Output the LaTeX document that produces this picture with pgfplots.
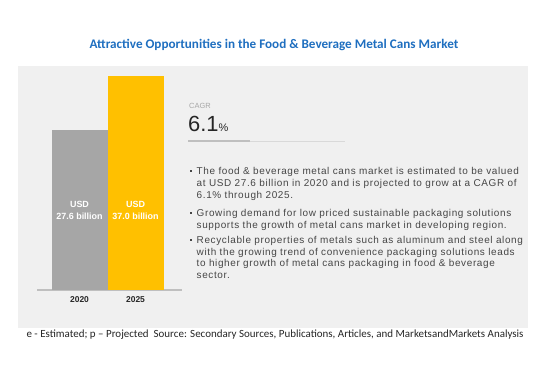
\documentclass[border=0pt]{standalone}
\usepackage{pgfplots}
\pgfplotsset{compat=1.18}
\usepackage{fontspec}
\setmainfont{Liberation Sans}
\newfontfamily\carlito{Carlito}
\newfontfamily\bulfont[LetterSpace=6.3]{Liberation Sans}
\definecolor{panel}{HTML}{F0F0F0}
\definecolor{barg}{HTML}{A6A6A6}
\definecolor{bary}{HTML}{FFC000}
\definecolor{titleblue}{HTML}{1F6FC0}
\definecolor{txt}{HTML}{464646}
\newcommand\bul{\bulfont\fontsize{10}{11}\selectfont}
\begin{document}
\begin{tikzpicture}[x=1bp,y=1bp]
\fill[white] (0,0) rectangle (550,380);
\fill[panel] (18,52) rectangle (528,314);
\node[font=\carlito\bfseries\fontsize{13.2}{15}\selectfont, text=titleblue, anchor=base, inner sep=0] at (274,332) {Attractive Opportunities in the Food \& Beverage Metal Cans Market};
\begin{axis}[at={(37bp,90bp)}, anchor=south west, scale only axis,
  width=145bp, height=231.4bp, xmin=-0.759, xmax=1.83, ymin=0, ymax=40,
  axis x line*=bottom, axis y line=none,
  x axis line style={draw=black!25, line width=1.2bp},
  xtick={0,1}, xticklabels={2020,2025}, major tick length=0,
  xticklabel style={font=\bfseries\fontsize{8.5}{10}\selectfont, text=black!85, yshift=-3bp},
  ytick=\empty, ybar, bar width=56bp, clip=false]
\addplot[fill=barg, draw=none, bar shift=0pt] coordinates {(0,27.6)};
\addplot[fill=bary, draw=none, bar shift=0pt] coordinates {(1,37.0)};
\node[text=white, align=center, font=\bfseries\fontsize{9}{12}\selectfont] at (axis cs:0,13.8) {USD\\27.6 billion};
\node[text=white, align=center, font=\bfseries\fontsize{9}{12}\selectfont] at (axis cs:1,13.8) {USD\\37.0 billion};
\end{axis}
% CAGR block
\node[anchor=base west, inner sep=0, font=\fontsize{7.5}{8}\selectfont, text=barg] at (189,272) {CAGR};
\node[anchor=base west, inner sep=0, font=\fontsize{22}{24}\selectfont, text=black!85] at (188,249) {6.1{\fontsize{11}{12}\selectfont\%}};
\draw[line width=0.6bp, draw=black!15] (250,238.8) -- (345,238.8);
\draw[line width=2.6bp, draw=black!25] (188,239) -- (250,239);
% bullets
\fill[txt] (189.6,207.6) rectangle ++(2.8,2.8);
\fill[txt] (189.6,165.6) rectangle ++(2.8,2.8);
\fill[txt] (189.6,138.6) rectangle ++(2.8,2.8);
\node[anchor=base west, inner sep=0, font=\bul, text=txt] at (196.5,206) {The food \& beverage metal cans market is estimated to be valued};
\node[anchor=base west, inner sep=0, font=\bul, text=txt] at (196.5,194) {at USD 27.6 billion in 2020 and is projected to grow at a CAGR of};
\node[anchor=base west, inner sep=0, font=\bul, text=txt] at (196.5,182) {6.1\% through 2025.};
\node[anchor=base west, inner sep=0, font=\bul, text=txt] at (196.5,164) {Growing demand for low priced sustainable packaging solutions};
\node[anchor=base west, inner sep=0, font=\bul, text=txt] at (196.5,152) {supports the growth of metal cans market in developing region.};
\node[anchor=base west, inner sep=0, font=\bul, text=txt] at (196.5,137) {Recyclable properties of metals such as aluminum and steel along};
\node[anchor=base west, inner sep=0, font=\bul, text=txt] at (196.5,125) {with the growing trend of convenience packaging solutions leads};
\node[anchor=base west, inner sep=0, font=\bul, text=txt] at (196.5,114) {to higher growth of metal cans packaging in food \& beverage};
\node[anchor=base west, inner sep=0, font=\bul, text=txt] at (196.5,102) {sector.};
% footnote
\node[anchor=base, inner sep=0, font=\carlito\fontsize{11}{13}\selectfont, text=black!85] at (275,43) {e - Estimated; p – Projected\ \ Source: Secondary Sources, Publications, Articles, and MarketsandMarkets Analysis};
\end{tikzpicture}
\end{document}
